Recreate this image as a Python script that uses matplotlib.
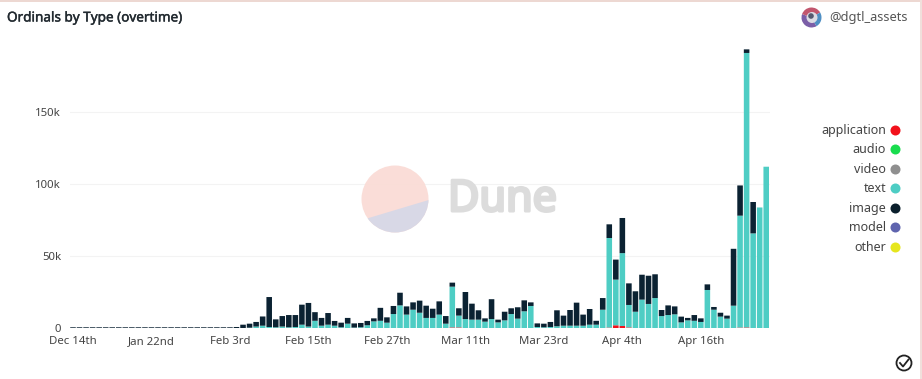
import numpy as np
import matplotlib
matplotlib.use("Agg")
import matplotlib.pyplot as plt
import matplotlib.patheffects as pe
from matplotlib.patches import Circle, Rectangle, Polygon, Wedge

plt.rcParams['font.family'] = ['Noto Sans', 'DejaVu Sans']

# values in thousands, one per bar
application = [0]*58 + [0.4, 0.4] + [0]*22 + [0.3, 1.9, 1.4, 0.4] + [0]*16 + [0.3, 0.4] + [0]*3

text = [0]*25 + [0, 0, 0.2, 1, 1.6, 0.7, 0.5, 1, 0.5, 0.7, 2.3, 1, 5, 1.6, 2.3, 1.6, 0.5, 3, 0.3, 0.5,
        1.9, 4.6, 5, 3.7, 9.7, 15.7, 9.3, 12.7, 10.6, 7, 7, 9.3, 3, 28.3, 8.2, 6.2, 5.8, 5.8, 4.4, 6.2,
        3.9, 5.3, 9.7, 6.5, 11.6, 15.3, 0.7, 0.5, 0.7, 1.2, 1.6, 1.6, 1.6, 1.6, 2.3, 2.3, 12.7, 62.2,
        31.7, 50.6, 15.6, 11.3, 19.7, 16.7, 20.8, 8.3, 9, 9.5, 3.9, 5.3, 5, 4.2, 26.4, 12.7, 7.9, 6.5,
        15.5, 77.7, 190.6, 65.7, 83.7, 112]

image = [0.5]*25 + [0.7, 2.3, 2.8, 3.2, 6.4, 20.8, 5.5, 7.3, 8.5, 8.3, 13.9, 16.4, 6, 5.4, 8.1, 3.3, 3.2, 4,
         2.9, 3, 3, 2.1, 9, 3.7, 5.6, 8.8, 5.7, 5.1, 8.4, 8.5, 6.4, 9.2, 5.3, 2.8, 5.1, 18.8, 11.1, 6.5,
         2.3, 13.8, 1.9, 6, 4, 7.9, 7.6, 2.5, 2.5, 2.5, 3.5, 11.1, 7, 10.9, 16, 7.7, 10.9, 2.7, 8.1, 9.5,
         13.9, 24.4, 15, 14.2, 17.3, 19.6, 16.5, 4.2, 6.7, 5.5, 4, 1.7, 4, 2.5, 3.9, 1.9, 2.7, 2.1, 39.5,
         21, 2.5, 21.8, 0, 0]

tick_labels = ["Dec 14th", "Jan 22nd", "Feb 3rd", "Feb 15th", "Feb 27th", "Mar 11th", "Mar 23rd", "Apr 4th", "Apr 16th"]
y_ticks = [0, 50, 100, 150]
y_labels = ["0", "50k", "100k", "150k"]

legend_names = ["application", "audio", "video", "text", "image", "model", "other"]
legend_colors = ["#f2111b", "#19dd4e", "#8f8f8f", "#4ecdc4", "#0b1f2c", "#5f64ae", "#e6e61e"]

x = np.arange(len(text))
application = np.array(application)
text = np.array(text)
image = np.array(image)

W, H = 922, 379
fig = plt.figure(figsize=(W/100, H/100), dpi=100)

ax = fig.add_axes([69.5/W, 1-328/H, 700/W, 288/H])
bars = []
bars.append(ax.bar(x, application, width=0.85, color="#f2111b"))
bars.append(ax.bar(x, text, width=0.85, bottom=application, color="#4ecdc4"))
bars.append(ax.bar(x, image, width=0.85, bottom=application+text, color="#0b2232"))
for group in bars:
    for b in group:
        b.set_snap(False)
ax.set_xlim(-0.535, 106.5)
ax.set_ylim(0, 200)
ax.set_xticks(np.arange(0, 97, 12))
ax.set_xticklabels(tick_labels, fontsize=8.2, color="#444444")
ax.set_yticks(y_ticks)
ax.set_yticklabels(y_labels, fontsize=8.2, color="#444444")
ax.tick_params(length=0, pad=6)
ax.grid(axis='y', color="#f3f3f3", lw=0.8)
ax.set_axisbelow(True)
for s in ax.spines.values():
    s.set_visible(False)

# everything else sits in pixel coordinates
ov = fig.add_axes([0, 0, 1, 1], facecolor='none')
ov.set_xlim(0, W)
ov.set_ylim(H, 0)
ov.axis('off')

ov.add_patch(Rectangle((0, 0), W, 1.5, color="#edd8d2", lw=0))
ov.add_patch(Rectangle((W-2, 0), 1.5, H, color="#f0e0dc", lw=0))

title = ov.text(7, 18, "Ordinals by Type (overtime)", fontsize=9.75, color="#222a30", va='center')
title.set_path_effects([pe.withStroke(linewidth=0.3, foreground="#222a30")])
ov.text(829, 18, "@dgtl_assets", fontsize=9.2, color="#555555", va='center')

# avatar
ov.add_patch(Wedge((811.5, 17.5), 10, 60, 200, color="#7b5ea7", lw=0))
ov.add_patch(Wedge((811.5, 17.5), 10, 200, 330, color="#c2566e", lw=0))
ov.add_patch(Wedge((811.5, 17.5), 10, 330, 420, color="#4f8fc4", lw=0))
ov.add_patch(Circle((812, 17.5), 5.5, color="#dcdce4", lw=0))
ov.add_patch(Circle((811, 16), 2.8, color="#555a70", lw=0))

# Dune watermark
c = Circle((395, 199), 33.5, color="#fadcd6", lw=0, zorder=3, alpha=0.95)
ov.add_patch(c)
low = Polygon([(350, 223.6), (440, 196.6), (440, 240), (350, 240)], color="#d8d8e6", lw=0, zorder=4)
ov.add_patch(low)
low.set_clip_path(c)
dune = ov.text(448, 200, "Dune", fontsize=31, color="#dcdcdc", va='center', zorder=3)
dune.set_path_effects([pe.withStroke(linewidth=2.2, foreground="#dcdcdc")])

# legend
legend_y = [130.5, 149.5, 169.5, 188.5, 208.5, 227.5, 247.5]
for name, col, yy in zip(legend_names, legend_colors, legend_y):
    ov.text(886, yy, name, ha='right', va='center', fontsize=9, color="#444444")
    ov.add_patch(Circle((895.5, yy), 5, color=col, lw=0))

# check mark
ov.add_patch(Circle((904, 363), 7.5, fc='white', ec="#222222", lw=1.3))
ov.plot([900, 903, 908.5], [363, 366.5, 359.5], color="#222222", lw=1.3)

fig.savefig("out.png", dpi=100, facecolor='white')
